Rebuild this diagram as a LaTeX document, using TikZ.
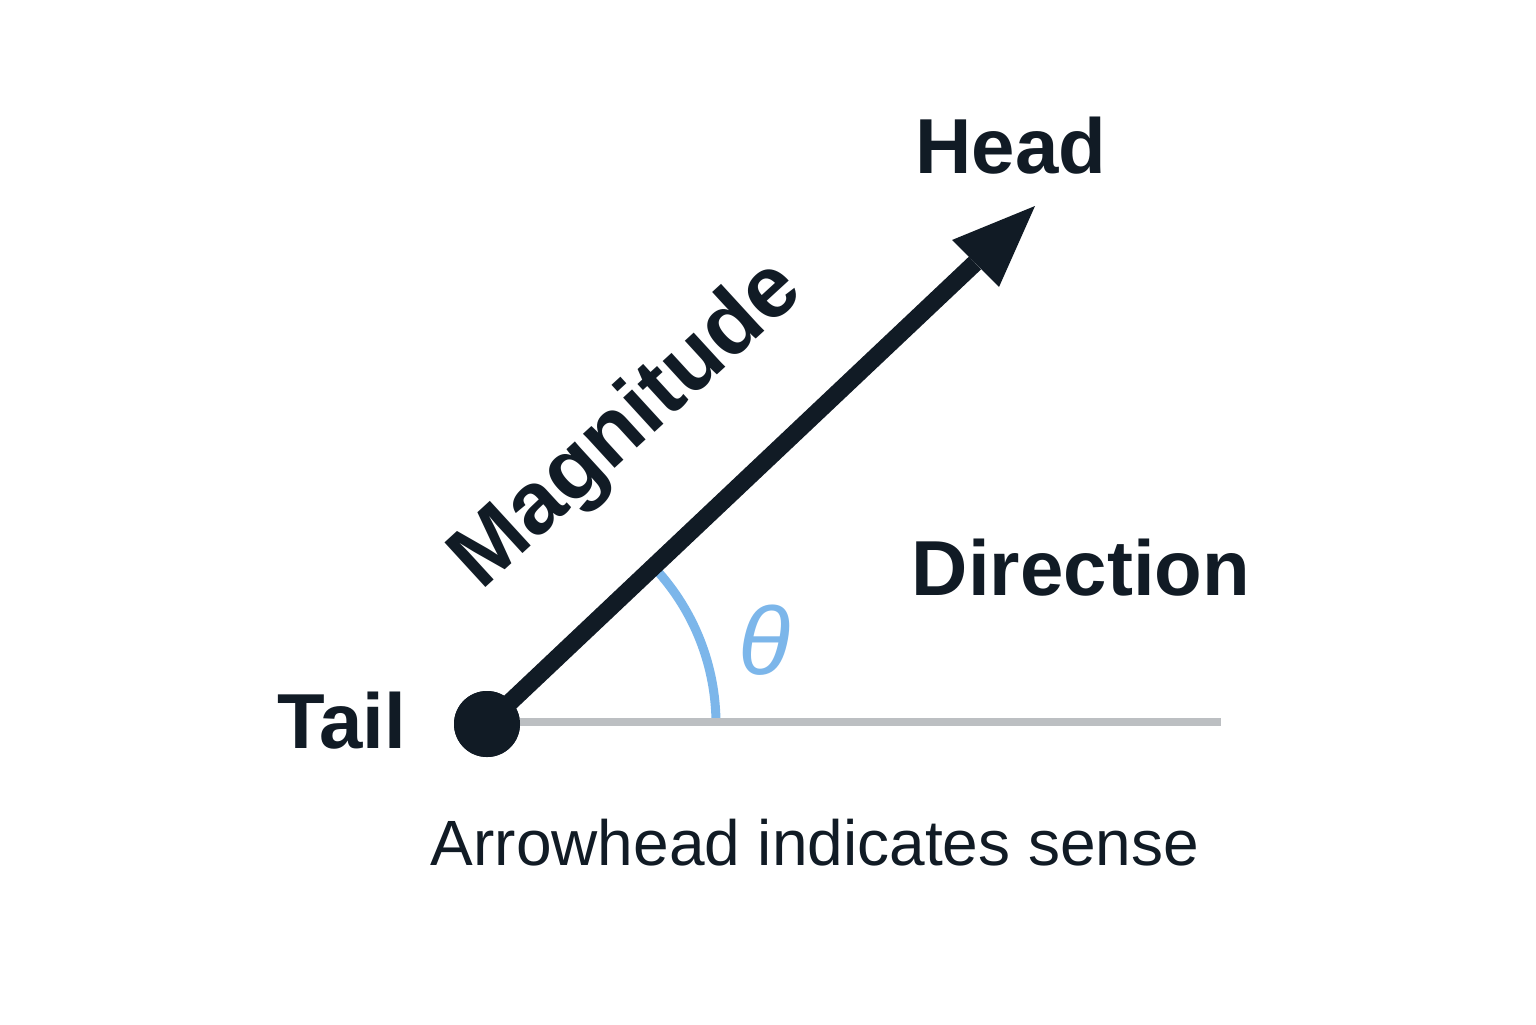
\documentclass[tikz,border=0pt]{standalone}
\usepackage{fontspec}
\setmainfont{Liberation Sans}
\definecolor{ink}{HTML}{111B25}
\definecolor{thetablue}{HTML}{7CB6EA}
\definecolor{basegray}{HTML}{BCBFC2}
\tikzset{
  bigbold/.style={font=\fontsize{39pt}{44pt}\selectfont\bfseries, text=ink, inner sep=0pt},
  caption/.style={font=\fontsize{32pt}{38pt}\selectfont, text=ink, inner sep=0pt},
  shaft/.style={draw=ink, line width=8.8pt},
  baseline line/.style={draw=basegray, line width=4.2pt},
  anglearc/.style={draw=thetablue, line width=4.5pt},
}
\begin{document}
\begin{tikzpicture}[x=0.5pt,y=-0.5pt]
\useasboundingbox (0,0) rectangle (1536,1024);
\fill[white] (0,0) rectangle (1536,1024);
% tail dot
\node[circle, fill=ink, minimum size=33pt, inner sep=0pt] (tail) at (487,724) {};
\coordinate (notch) at (975,263);
\coordinate (tip) at (1035,206);
\coordinate (lineend) at (1221,722);
% angle arc
\draw[anglearc] ([xshift=114.5pt]tail.center) arc[start angle=0, end angle=43, radius=114.5pt];
% reference horizontal line
\coordinate (linestart) at (tail.center |- lineend);
\draw[baseline line] (linestart) -- (lineend);
% shaft
\draw[shaft] (tail.center) -- (notch);
% arrowhead
\fill[ink] (tip) -- (952,240) -- (966,254) -- (984,272) -- (999,287) -- cycle;
% dot on top
\node[circle, fill=ink, minimum size=33pt, inner sep=0pt] at (tail) {};
% labels
\node[bigbold, anchor=base] (headlbl) at (1011,173) {Head};
\node[bigbold, anchor=base] (taillbl) at (342,748) {Tail};
\node[bigbold, anchor=base] (dirlbl) at (1081,595) {Direction};
\node[bigbold, font=\fontsize{44pt}{48pt}\selectfont\bfseries, rotate=42.5] (maglbl) at (628,426) {Magnitude};
\node[font=\fontsize{48pt}{52pt}\selectfont\itshape, text=thetablue, inner sep=0pt] (theta) at (765,640) {θ};
\node[caption, anchor=base] (cap) at (815,865) {Arrowhead indicates sense};
\end{tikzpicture}
\end{document}
